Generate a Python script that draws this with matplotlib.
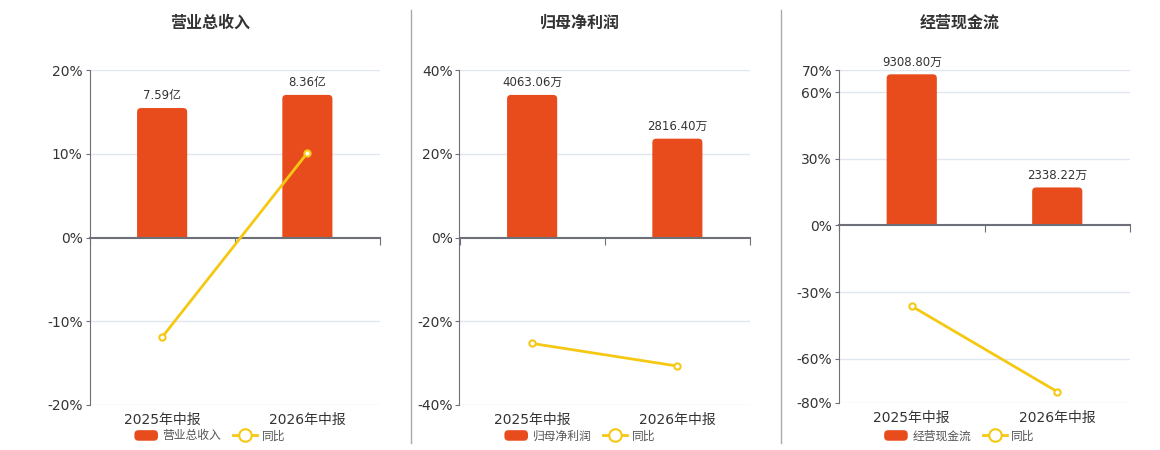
import matplotlib
matplotlib.use('Agg')
import matplotlib.pyplot as plt
from matplotlib.patches import FancyBboxPatch, Rectangle, Patch
from matplotlib.lines import Line2D
from matplotlib.legend_handler import HandlerPatch

plt.rcParams['font.family'] = ['DejaVu Sans', 'Noto Sans CJK SC']

# dados
periodos = ['2025年中报', '2026年中报']
titulos = ['营业总收入', '归母净利润', '经营现金流']

receita = [7.59, 8.36]  # 亿
receita_rot = ['7.59亿', '8.36亿']
receita_yoy = [-11.9, 10.1]

lucro = [4063.06, 2816.40]  # 万
lucro_rot = ['4063.06万', '2816.40万']
lucro_yoy = [-25.3, -30.7]

caixa = [9308.80, 2338.22]  # 万
caixa_rot = ['9308.80万', '2338.22万']
caixa_yoy = [-36.4, -74.9]

ticks_pct = [[-20, -10, 0, 10, 20], [-40, -20, 0, 20, 40], [-80, -60, -30, 0, 30, 60, 70]]

# topo do eixo das barras (escala oculta)
topo_barras = [9.82, 4773, 9574]

cor_barra = '#E84C1D'
cor_linha = '#F5C814'
cor_eixo = '#6E7079'
cor_grade = '#E0E6F1'
cor_texto = '#333333'

W, H = 1160, 450
# (esquerda, direita, topo, base) em pixels
caixas = [(89.5, 380, 70, 405), (459.5, 750, 70, 405), (839, 1130, 70, 403)]


def rect_px(l, r, t, b):
    return [l / W, 1 - b / H, (r - l) / W, (b - t) / H]


def patch_arredondado(legend, orig_handle, xdescent, ydescent, width, height, fontsize):
    return FancyBboxPatch((-xdescent, -ydescent), width, height,
                          boxstyle='round,pad=0,rounding_size=3')


fig = plt.figure(figsize=(11.6, 4.5), dpi=100)

series = [(receita, receita_rot, receita_yoy), (lucro, lucro_rot, lucro_yoy), (caixa, caixa_rot, caixa_yoy)]
x = [0, 1]

for i in range(3):
    vals, rots, yoy = series[i]
    L, R, T, B = caixas[i]
    ticks = ticks_pct[i]
    lo, hi = ticks[0], ticks[-1]

    # eixo base: grade e rótulos
    axg = fig.add_axes(rect_px(L, R, T, B))
    axg.set_xlim(-0.5, 1.5)
    axg.set_ylim(lo, hi)
    axg.set_yticks(ticks)
    axg.set_yticklabels([f'{t}%' for t in ticks])
    axg.set_xticks(x)
    axg.set_xticklabels(periodos)
    for t in ticks:
        if t != 0:
            axg.axhline(t, color=cor_grade, lw=1, zorder=0)
    for s in ['top', 'right', 'bottom']:
        axg.spines[s].set_visible(False)
    axg.spines['left'].set_color(cor_eixo)
    axg.tick_params(axis='y', length=3, color=cor_eixo, labelcolor=cor_texto, labelsize=10, pad=2)
    axg.tick_params(axis='x', length=0, labelcolor=cor_texto, labelsize=10, pad=6)

    # barras
    k = topo_barras[i] / hi
    lo_b, hi_b = lo * k, hi * k
    axb = axg.twinx()
    axb.set_ylim(lo_b, hi_b)
    axb.axis('off')
    barras = axb.bar(x, vals, width=0.345, color=cor_barra)
    x_por_px = 2 / (R - L)
    y_por_px = (hi_b - lo_b) / (B - T)
    r_px = 4
    for b in barras:
        ry = r_px * y_por_px
        p = FancyBboxPatch((b.get_x(), -ry), b.get_width(), b.get_height() + ry,
                           boxstyle=f'round,pad=0,rounding_size={r_px * x_por_px}',
                           mutation_aspect=y_por_px / x_por_px,
                           fc=cor_barra, ec='none')
        axb.add_patch(p)
        clip = Rectangle((-0.5, 0), 2, hi_b, transform=axb.transData)
        p.set_clip_path(clip)
        b.remove()
    for xi, v, rot in zip(x, vals, rots):
        axb.annotate(rot, (xi, v), xytext=(0, 4), textcoords='offset points',
                     ha='center', va='bottom', fontsize=8.5, color=cor_texto)

    # linha de variação e eixo zero
    axl = fig.add_axes(rect_px(L, R, T, B))
    axl.patch.set_visible(False)
    axl.set_xlim(-0.5, 1.5)
    axl.set_ylim(lo, hi)
    for s in ['top', 'right', 'left']:
        axl.spines[s].set_visible(False)
    axl.spines['bottom'].set_position(('data', 0))
    axl.spines['bottom'].set_color(cor_eixo)
    axl.spines['bottom'].set_linewidth(1.5)
    axl.set_xticks([-0.5, 0.5, 1.5])
    axl.set_xticklabels(['', '', ''])
    axl.set_yticks([])
    axl.tick_params(axis='x', length=5, color=cor_eixo, direction='out')
    axl.plot(x, yoy, color=cor_linha, lw=2, marker='o', ms=4.5, mfc='white', mew=1.5,
             zorder=3, clip_on=False)

    handles = [Patch(facecolor=cor_barra, label=titulos[i]),
               Line2D([], [], color=cor_linha, lw=2, marker='o', ms=9, mfc='white', mew=1.5, label='同比')]
    axl.legend(handles=handles, loc='center', bbox_to_anchor=(0.5 - 25 / (R - L), (B - 436) / (B - T)),
               ncol=2, frameon=False, fontsize=8.5, handlelength=2.0, handleheight=1.0,
               handletextpad=0.4, columnspacing=1.0, labelcolor='#555555',
               handler_map={Patch: HandlerPatch(patch_func=patch_arredondado)})

    fig.text(((L + R) / 2 - 25) / W, 1 - 23 / H, titulos[i], ha='center', va='center',
             fontsize=11.5, fontweight='bold', color=cor_texto)

# separadores
for xs in [411, 781]:
    fig.add_artist(Line2D([xs / W, xs / W], [1 - 10 / H, 1 - 443 / H], color='#AAAAAA', lw=1))

fig.savefig('out.png', dpi=100)
